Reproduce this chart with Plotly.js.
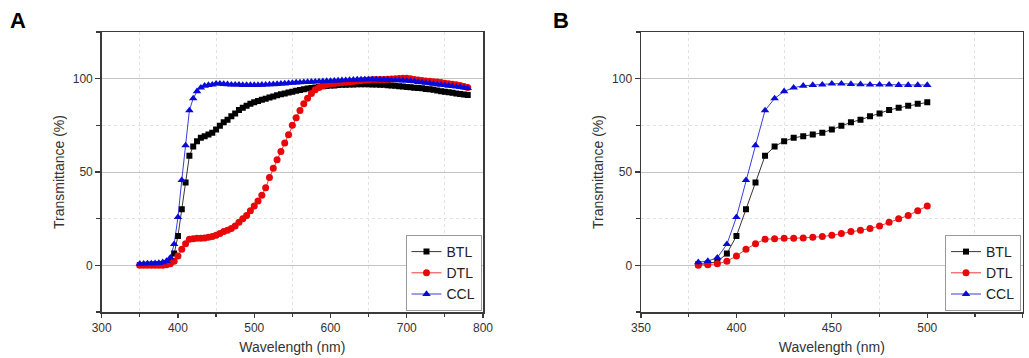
<!DOCTYPE html>
<html>
<head>
<meta charset="utf-8">
<script src="https://cdn.plot.ly/plotly-3.0.1.min.js"></script>
<style>html,body{margin:0;padding:0;background:#fff;}#chart{width:1029px;height:358px;}</style>
</head>
<body>
<div id="chart"></div>
<script>
// ---- Panel A data (wavelength in nm, transmittance in %) ----
const wavelengthA = [350,355,360,365,370,375,380,385,390,395,400,405,410,415,420,425,430,435,440,445,450,455,460,465,470,475,480,485,490,495,500,
  505,510,515,520,525,530,535,540,545,550,555,560,565,570,575,580,585,590,595,600,
  605,610,615,620,625,630,635,640,645,650,655,660,665,670,675,680,685,690,695,700,
  705,710,715,720,725,730,735,740,745,750,755,760,765,770,775,780];
const btlA = [0.2,0.2,0.3,0.3,0.4,0.5,
  0.6,1.0,2.0,6.3,15.7,30.0,44.4,58.7,63.7,66.5,68.3,69.2,70.1,71.0,72.8,74.8,76.6,78.0,79.8,81.4,83.2,84.4,85.5,86.6,87.3,
  88.0,88.7,89.3,89.9,90.5,91.1,91.6,92.1,92.6,93.0,93.5,93.9,94.3,94.7,95.0,95.3,95.6,95.9,96.1,96.3,
  96.4,96.6,96.7,96.8,96.9,96.9,97.0,97.0,97.0,97.0,96.9,96.9,96.8,96.7,96.5,96.4,96.2,96.0,95.8,95.6,
  95.4,95.2,95.0,94.8,94.5,94.3,94.0,93.6,93.3,93.0,92.7,92.4,92.1,91.8,91.5,91.2];
const dtlA = [0,0,0,0,0,0,
  0,0.3,0.8,2.2,5.0,8.6,11.6,14.0,14.3,14.5,14.5,14.7,15.0,15.4,16.1,17.0,18.1,18.8,19.7,21.1,23.1,24.9,26.7,29.3,31.8,
  34.5,37.5,41.5,47.0,52.0,56.5,61.0,65.5,70.0,75.0,79.0,83.0,86.5,89.5,92.0,94.0,95.3,96.2,96.8,97.2,
  97.4,97.7,97.9,98.1,98.3,98.5,98.7,98.9,99.1,99.3,99.5,99.6,99.6,99.6,99.7,99.8,100.0,100.1,100.2,100.2,
  99.9,99.6,99.3,99.0,98.8,98.6,98.4,98.2,97.9,97.6,97.3,97.0,96.7,96.3,95.8,95.3];
const cclA = [0.8,0.9,1.0,1.0,1.1,1.2,
  1.6,2.3,4.1,11.3,25.8,45.6,64.2,83.0,89.4,93.2,95.2,96.2,96.6,96.8,97.3,97.3,97.1,97.0,96.8,96.8,96.8,96.6,96.6,96.6,96.6,
  96.6,96.7,96.8,96.9,97.0,97.1,97.3,97.4,97.6,97.7,97.9,98.0,98.1,98.2,98.3,98.4,98.5,98.6,98.7,98.8,
  98.9,99.0,99.1,99.2,99.3,99.4,99.5,99.5,99.6,99.6,99.6,99.6,99.5,99.5,99.4,99.3,99.2,99.1,99.0,98.9,
  98.7,98.5,98.2,98.0,97.7,97.5,97.2,97.0,96.7,96.5,96.2,96.0,95.7,95.5,95.2,94.9];

// ---- Panel B data (zoom 380–500 nm) ----
const wavelengthB = [380,385,390,395,400,405,410,415,420,425,430,435,440,445,450,455,460,465,470,475,480,485,490,495,500];
const btlB = [0.6,1.0,2.0,6.3,15.7,30.0,44.4,58.7,63.7,66.5,68.3,69.2,70.1,71.0,72.8,74.8,76.6,78.0,79.8,81.4,83.2,84.4,85.5,86.6,87.3];
const dtlB = [0,0.3,0.8,2.2,5.0,8.6,11.6,14.0,14.3,14.5,14.5,14.7,15.0,15.4,16.1,17.0,18.1,18.8,19.7,21.1,23.1,24.9,26.7,29.3,31.8];
const cclB = [1.6,2.3,4.1,11.3,25.8,45.6,64.2,83.0,89.4,93.2,95.2,96.2,96.6,96.8,97.3,97.3,97.1,97.0,96.8,96.8,96.8,96.6,96.6,96.6,96.6];

const seriesNames = ['BTL','DTL','CCL'];
const colors = ['#000000','#e8080a','#0a0ad8'];
const symbols = ['square','circle','triangle-up'];
const sizesA = [6,7,7.5];
const sizesB = [6,7,7.5];

const FONT = '"Liberation Sans", Arial, sans-serif';
const W = 1029, H = 358;

function mk(x, y, i, xa, ya, leg, sizes) {
  return {
    x: x, y: y, type: 'scatter', mode: 'lines+markers', name: seriesNames[i],
    xaxis: xa, yaxis: ya, legend: leg,
    line: {color: colors[i], width: 0.8},
    marker: {symbol: symbols[i], size: sizes[i], color: colors[i], line: {width: 0}}
  };
}

const traces = [
  mk(wavelengthA, btlA, 0, 'x', 'y', 'legend', sizesA),
  mk(wavelengthA, dtlA, 1, 'x', 'y', 'legend', sizesA),
  mk(wavelengthA, cclA, 2, 'x', 'y', 'legend', sizesA),
  mk(wavelengthB, btlB, 0, 'x2', 'y2', 'legend2', sizesB),
  mk(wavelengthB, dtlB, 1, 'x2', 'y2', 'legend2', sizesB),
  mk(wavelengthB, cclB, 2, 'x2', 'y2', 'legend2', sizesB)
];

function xAxis(domain, range, dtick, anchor) {
  return {
    domain: domain, range: range, anchor: anchor, dtick: dtick, tick0: range[0],
    showgrid: false, zeroline: false,
    showline: true, mirror: true, linecolor: '#3a3a3a', linewidth: 1.5,
    ticks: 'outside', ticklen: 4, tickwidth: 1.2, tickcolor: '#3a3a3a',
    tickfont: {family: FONT, size: 12, color: '#333'},
    minor: {dtick: dtick/2, tick0: range[0], ticks: 'outside', ticklen: 3, tickwidth: 1.2, tickcolor: '#3a3a3a',
            showgrid: true, gridcolor: '#e2e2e2', gridwidth: 1, griddash: 'dot'},
    title: {text: 'Wavelength (nm)', font: {family: FONT, size: 14, color: '#333'}, standoff: 8}
  };
}
function yAxis(anchor) {
  return {
    domain: [1 - 312/H, 1 - 32/H], range: [-25, 125], anchor: anchor, dtick: 50, tick0: 0,
    showgrid: true, gridcolor: '#c4c4c4', gridwidth: 1, zeroline: false,
    showline: true, mirror: true, linecolor: '#3a3a3a', linewidth: 1.5,
    ticks: 'outside', ticklen: 5, tickwidth: 1.2, tickcolor: '#3a3a3a',
    tickfont: {family: FONT, size: 12, color: '#333'},
    minor: {dtick: 25, tick0: 0, ticks: 'outside', ticklen: 4, tickwidth: 1.2, tickcolor: '#3a3a3a',
            showgrid: true, gridcolor: '#e2e2e2', gridwidth: 1, griddash: 'dot'},
    title: {text: 'Transmittance (%)', font: {family: FONT, size: 14, color: '#333'}, standoff: 5}
  };
}
function legendAt(xRightPx) {
  return {
    x: xRightPx / W, xanchor: 'right', y: 1 - 311/H, yanchor: 'bottom',
    bgcolor: '#ffffff', bordercolor: '#9a9a9a', borderwidth: 1,
    font: {family: FONT, size: 14, color: '#222'},
    itemwidth: 30, tracegroupgap: 0
  };
}

const layout = {
  width: W, height: H,
  margin: {l: 0, r: 0, t: 0, b: 0},
  paper_bgcolor: '#fff', plot_bgcolor: '#fff',
  showlegend: true,
  font: {family: FONT},
  xaxis: xAxis([101.7/W, 483/W], [300, 800], 100, 'y'),
  yaxis: yAxis('x'),
  xaxis2: xAxis([641/W, 1022.7/W], [350, 550], 50, 'y2'),
  yaxis2: yAxis('x2'),
  legend: legendAt(481.5),
  legend2: legendAt(1021),
  annotations: [
    {text: '<b>A</b>', x: 18/W, y: 1 - 20/H, xref: 'paper', yref: 'paper', xanchor: 'center', yanchor: 'middle',
     showarrow: false, font: {family: FONT, size: 22, color: '#000'}},
    {text: '<b>B</b>', x: 561/W, y: 1 - 20/H, xref: 'paper', yref: 'paper', xanchor: 'center', yanchor: 'middle',
     showarrow: false, font: {family: FONT, size: 22, color: '#000'}}
  ]
};

Plotly.newPlot('chart', traces, layout, {displayModeBar: false, staticPlot: true});
</script>
</body>
</html>
